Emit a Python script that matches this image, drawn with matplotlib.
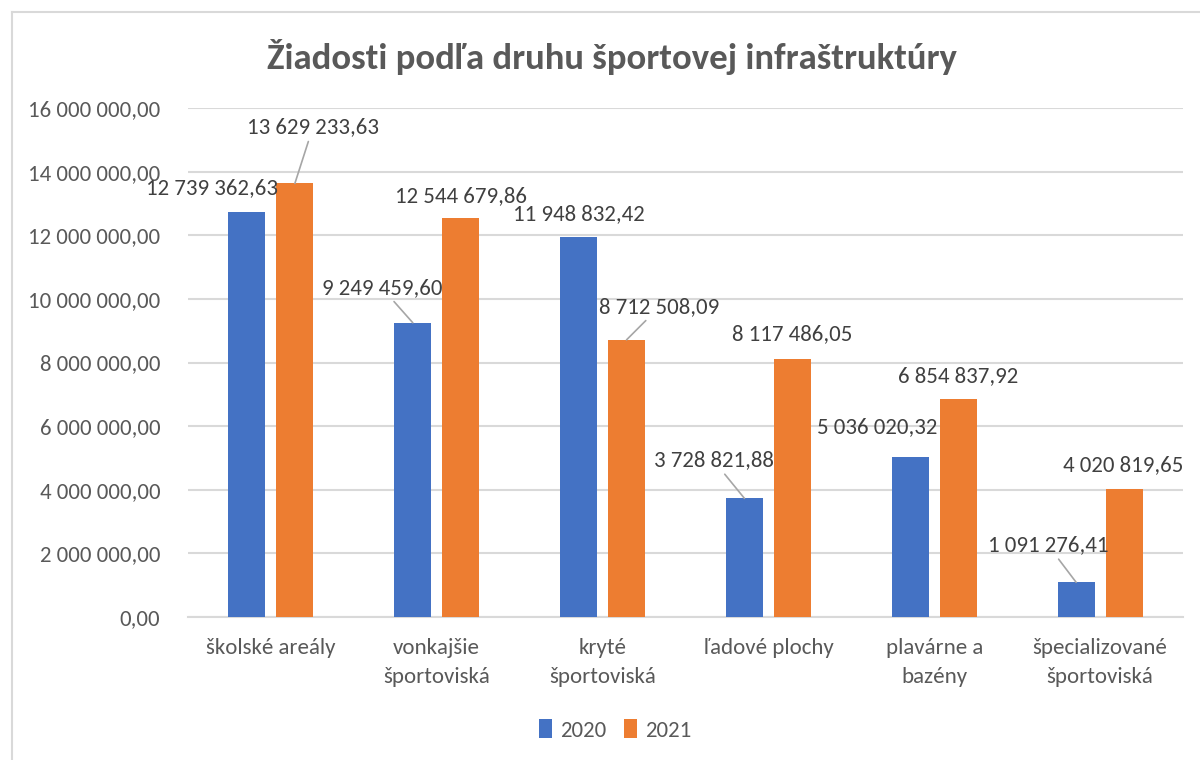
import numpy as np
import matplotlib
matplotlib.use("Agg")
import matplotlib.pyplot as plt
from matplotlib.lines import Line2D

plt.rcParams['font.family'] = ['Carlito', 'Lato', 'DejaVu Sans']

# data
categories = ['školské areály', 'vonkajšie\nšportoviská', 'kryté\nšportoviská',
              'ľadové plochy', 'plavárne a\nbazény', 'špecializované\nšportoviská']
vals_2020 = [12739362.63, 9249459.60, 11948832.42, 3728821.88, 5036020.32, 1091276.41]
vals_2021 = [13629233.63, 12544679.86, 8712508.09, 8117486.05, 6854837.92, 4020819.65]
series_names = ['2020', '2021']
yticks = [0, 2e6, 4e6, 6e6, 8e6, 10e6, 12e6, 14e6, 16e6]

# label placement (pixel offsets from bar top, and whether a leader line is drawn)
off_2020 = [(-35, 24), (-31, 35), (0, 23), (-31, 38), (-33, 30), (-28, 37)]
lead_2020 = [False, True, False, True, False, True]
off_2021 = [(18, 56), (0, 22), (33, 33), (0, 25), (0, 23), (-1, 24)]
lead_2021 = [True, False, True, False, False, False]

BLUE = '#4472C4'
ORANGE = '#ED7D31'
GRID = '#D9D9D9'
TXT = '#595959'
LBL = '#404040'
FS = 16.5


def fmt(v):
    s = '{:,.2f}'.format(v)
    return s.replace(',', ' ').replace('.', ',')


fig = plt.figure(figsize=(12, 7.6), dpi=100)
ax = fig.add_axes([188 / 1200, 1 - 617 / 760, (1183 - 188) / 1200, (617 - 108) / 760])

x = np.arange(len(categories))
w = 0.223
gap = 0.066
b1 = ax.bar(x - (w + gap) / 2, vals_2020, w, color=BLUE, label=series_names[0], zorder=3)
b2 = ax.bar(x + (w + gap) / 2, vals_2021, w, color=ORANGE, label=series_names[1], zorder=3)

ax.set_xlim(-0.5, len(categories) - 0.5)
ax.set_ylim(0, 16e6)
ax.set_yticks(yticks)
ax.set_yticklabels([fmt(t) for t in yticks])
ax.set_xticks(x)
ax.set_xticklabels(categories, linespacing=1.55)
ax.tick_params(axis='both', length=0, labelsize=FS, colors=TXT)
ax.tick_params(axis='y', pad=20)
ax.tick_params(axis='x', pad=15)
ax.grid(axis='y', color=GRID, linewidth=1.5, zorder=0)
for s in ['top', 'right', 'left']:
    ax.spines[s].set_visible(False)
ax.spines['bottom'].set_color(GRID)
ax.spines['bottom'].set_linewidth(1.5)


def add_labels(bars, vals, offs, leads):
    for bar, v, (dx, dy), ld in zip(bars, vals, offs, leads):
        xc = bar.get_x() + bar.get_width() / 2
        ap = None
        if ld:
            ap = dict(arrowstyle='-', color='#A6A6A6', lw=1.2, shrinkA=1, shrinkB=0)
        ax.annotate(fmt(v), xy=(xc, v), xytext=(dx, dy), textcoords='offset pixels',
                    ha='center', va='center', fontsize=FS, color=LBL,
                    arrowprops=ap, zorder=4)


add_labels(b1, vals_2020, off_2020, lead_2020)
add_labels(b2, vals_2021, off_2021, lead_2021)

fig.text(612 / 1200, 1 - 57 / 760, 'Žiadosti podľa druhu športovej infraštruktúry',
         ha='center', va='center', fontsize=26.5, fontweight='bold', color=TXT)

leg = fig.legend(loc='center', bbox_to_anchor=(615 / 1200, 1 - 730 / 760), ncol=2,
                 frameon=False, fontsize=FS, handlelength=0.55, handleheight=0.9,
                 handletextpad=0.35, columnspacing=0.8)
for t in leg.get_texts():
    t.set_color(TXT)

# chart frame
fig.add_artist(Line2D([12 / 1200, 1.0], [1 - 12 / 760, 1 - 12 / 760], color=GRID, lw=1.5,
                      transform=fig.transFigure))
fig.add_artist(Line2D([12 / 1200, 12 / 1200], [0, 1 - 12 / 760], color=GRID, lw=1.5,
                      transform=fig.transFigure))

fig.savefig('out.png', dpi=100, facecolor='white')
